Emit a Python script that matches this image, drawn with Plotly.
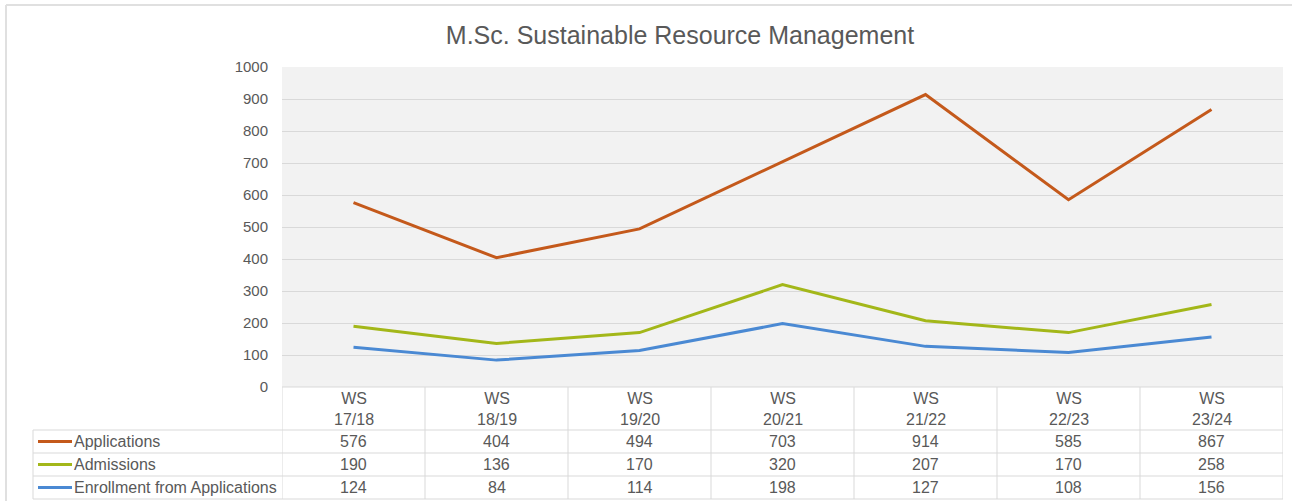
import plotly.graph_objects as go

categories = ["WS<br>17/18", "WS<br>18/19", "WS<br>19/20", "WS<br>20/21", "WS<br>21/22", "WS<br>22/23", "WS<br>23/24"]
applications = [576, 404, 494, 703, 914, 585, 867]
admissions = [190, 136, 170, 320, 207, 170, 258]
enrollment = [124, 84, 114, 198, 127, 108, 156]

series_names = ["Applications", "Admissions", "Enrollment from Applications"]
series_values = [applications, admissions, enrollment]
series_colors = ["#C4591B", "#A3B719", "#4A89D3"]

W, H = 1300, 501
L, R, T, B = 282, 1283, 67, 387   # plot area pixels
TEXT = "#595959"
GRID = "#D9D9D9"
FONT = "Liberation Sans, Arial, sans-serif"


def py(y):
    return (B - y) / (B - T)


def pxx(x):
    return (x - L) / (R - L)


fig = go.Figure()
xs = list(range(len(categories)))
for name, vals, col in zip(series_names, series_values, series_colors):
    fig.add_trace(go.Scatter(x=xs, y=vals, mode="lines", name=name,
                             line=dict(color=col, width=3), showlegend=False))

shapes = []
annotations = []
n = len(categories)
row_edges = [387, 430, 453, 476, 499]
# vertical column borders (data x positions)
for i in range(n + 1):
    shapes.append(dict(type="line", xref="x", yref="paper", x0=i - 0.5, x1=i - 0.5,
                       y0=py(row_edges[0]), y1=py(row_edges[-1]),
                       line=dict(color=GRID, width=1)))
# top border of header
shapes.append(dict(type="line", xref="x", yref="paper", x0=-0.5, x1=n - 0.5,
                   y0=py(387), y1=py(387), line=dict(color=GRID, width=1)))
# row borders spanning legend column
for ye in row_edges[1:]:
    shapes.append(dict(type="line", xref="paper", yref="paper", x0=pxx(33), x1=1,
                       y0=py(ye), y1=py(ye), line=dict(color=GRID, width=1)))
shapes.append(dict(type="line", xref="paper", yref="paper", x0=pxx(33), x1=pxx(33),
                   y0=py(430), y1=py(499), line=dict(color=GRID, width=1)))
# outer chart border (left / top)
shapes.append(dict(type="line", xref="paper", yref="paper", x0=pxx(6), x1=pxx(6),
                   y0=py(5), y1=py(501), line=dict(color="#E0E0E0", width=2)))
shapes.append(dict(type="line", xref="paper", yref="paper", x0=pxx(6), x1=pxx(1292),
                   y0=py(5), y1=py(5), line=dict(color="#E0E0E0", width=2)))

# header labels
for i, c in enumerate(categories):
    annotations.append(dict(x=i, y=py((387 + 430) / 2), xref="x", yref="paper",
                            text=c, showarrow=False, font=dict(size=16, color=TEXT, family=FONT),
                            xanchor="center", yanchor="middle"))
# rows
for r, (name, vals, col) in enumerate(zip(series_names, series_values, series_colors)):
    yc = (row_edges[r + 1] + row_edges[r + 2]) / 2
    shapes.append(dict(type="line", xref="paper", yref="paper", x0=pxx(38), x1=pxx(72),
                       y0=py(yc), y1=py(yc), line=dict(color=col, width=3)))
    annotations.append(dict(x=pxx(72), y=py(yc), xref="paper", yref="paper", text=name,
                            showarrow=False, xanchor="left", yanchor="middle",
                            font=dict(size=16, color=TEXT, family=FONT)))
    for i, v in enumerate(vals):
        annotations.append(dict(x=i, y=py(yc), xref="x", yref="paper", text=str(v),
                                showarrow=False, xanchor="center", yanchor="middle",
                                font=dict(size=16, color=TEXT, family=FONT)))

fig.update_layout(
    width=W, height=H,
    margin=dict(l=L, r=W - R, t=T, b=H - B, pad=0),
    paper_bgcolor="white", plot_bgcolor="#F2F2F2",
    title=dict(text="M.Sc. Sustainable Resource Management", x=680 / W, xanchor="center",
               y=1 - 35 / H, yanchor="middle", font=dict(size=25, color=TEXT, family=FONT)),
    xaxis=dict(range=[-0.5, n - 0.5], showticklabels=False, showgrid=False, zeroline=False,
               showline=False, ticks=""),
    yaxis=dict(range=[0, 1000], dtick=100, tick0=0, gridcolor=GRID, gridwidth=1, zeroline=False,
               showline=False, ticks="", ticklabelstandoff=13,
               tickfont=dict(size=15, color=TEXT, family=FONT)),
    shapes=shapes, annotations=annotations,
    font=dict(family=FONT, color=TEXT),
)

fig.write_html("out.html", config={"displayModeBar": False},
               post_script="document.body.style.margin='0';document.body.style.overflow='hidden';")
